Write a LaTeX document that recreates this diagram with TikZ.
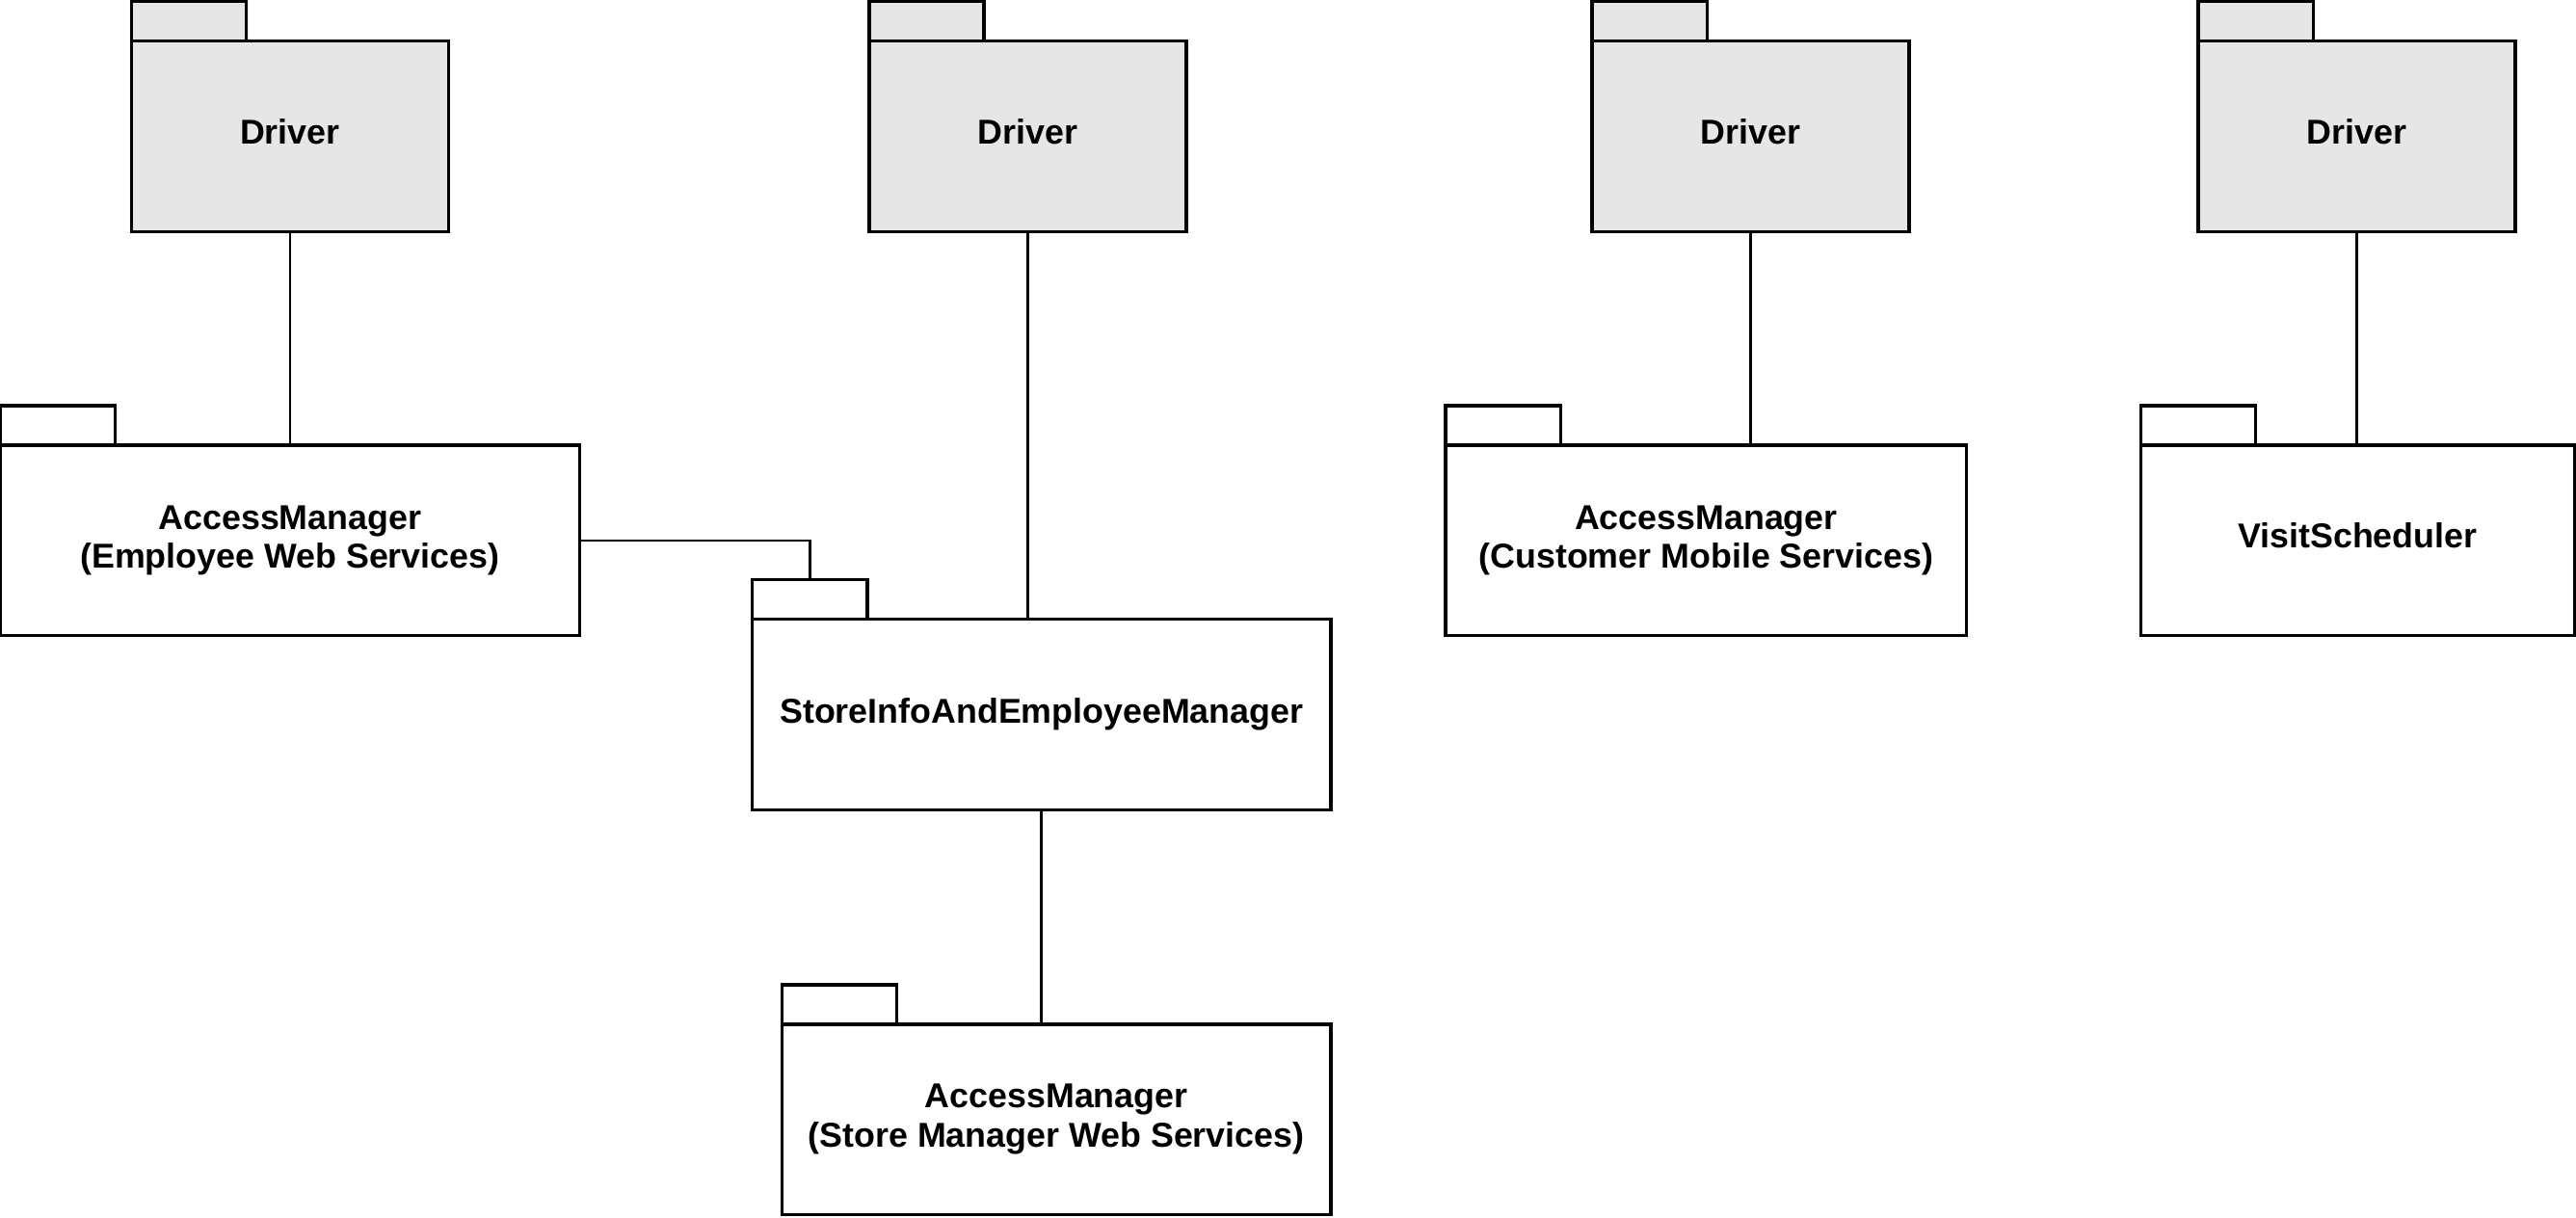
\documentclass[tikz,border=0pt]{standalone}
\usepackage{fontspec}
\setmainfont{Liberation Sans}
\usepackage{tikz}

\definecolor{drivergray}{HTML}{E6E6E6}

\tikzset{
  pkg/.style={draw,rectangle,line width=1pt,outer sep=0,inner sep=0,minimum height=58pt,align=center,font=\fontsize{10.5}{12}\selectfont\bfseries},
  oneline/.style={text height=7.5pt,text depth=3pt},
  drv/.style={pkg,oneline,fill=drivergray,minimum width=96.5pt},
  tabbox/.style={draw,rectangle,line width=1pt,outer sep=0,inner sep=0,minimum width=35pt,minimum height=12pt,anchor=south west},
  link/.style={line width=0.8pt}
}

\begin{document}
\begin{tikzpicture}[x=0.5pt,y=-0.5pt]
        \useasboundingbox (0,0) rectangle (1568,741);
        % drivers
        \node[drv] (d1) at (176.5,83) {Driver};
        \node[drv] (d2) at (625.5,83) {Driver};
        \node[drv] (d3) at (1065.5,83) {Driver};
        \node[drv] (d4) at (1434.5,83) {Driver};
        % packages
        \node[pkg,minimum width=176.5pt] (ame) at (176.5,329) {AccessManager\\(Employee Web Services)};
        \node[pkg,minimum width=176pt] (si) at (634,435) {StoreInfoAndEmployeeManager};
        \node[pkg,minimum width=167pt] (ams) at (643,681.5) {AccessManager\\(Store Manager Web Services)};
        \node[pkg,minimum width=158.5pt] (amc) at (1038.5,329) {AccessManager\\(Customer Mobile Services)};
        \node[pkg,oneline,minimum width=132pt] (vs) at (1435,329) {VisitScheduler};
        % tabs
        \foreach \n in {d1,d2,d3,d4}
          \node[tabbox,fill=drivergray] (\n-tab) at (\n.north west) {};
        \foreach \n in {ame,si,ams,amc,vs}
          \node[tabbox] (\n-tab) at (\n.north west) {};
        % links
        \draw[link] (d1.south) -- (ame.north);
        \draw[link] (d2.south) -- (d2.south |- si.north);
        \draw[link] (d3.south) -- (d3.south |- amc.north);
        \draw[link] (d4.south) -- (d4.south |- vs.north);
        \draw[link] (ame.east) -| (si-tab.north);
        \draw[link] (si.south) -- (si.south |- ams.north);
      \end{tikzpicture}
\end{document}
